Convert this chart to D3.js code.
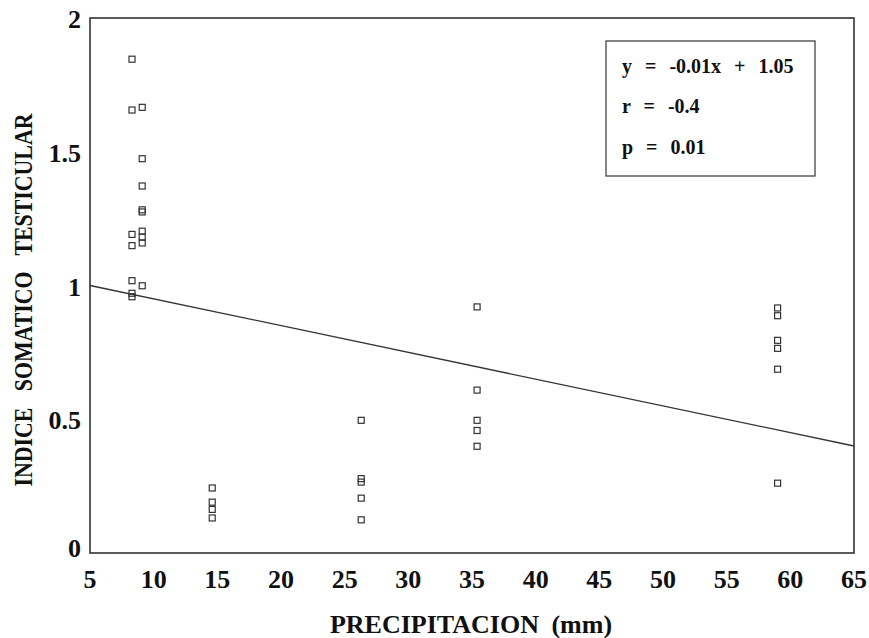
<!DOCTYPE html>
<html><head><meta charset="utf-8">
<script src="https://cdn.jsdelivr.net/npm/d3@7"></script>
<style>body{margin:0;background:#fff}</style>
</head><body>
<svg id="c" width="869" height="638"></svg>
<script>
// Data
const precipitation = [8.3,8.3,8.3,8.3,8.3,8.3,8.3, 9.1,9.1,9.1,9.1,9.1,9.1,9.1,9.1,9.1,
  14.6,14.6,14.6,14.6, 26.3,26.3,26.3,26.3,26.3, 35.4,35.4,35.4,35.4,35.4, 59.0,59.0,59.0,59.0,59.0,59.0];
const indice = [1.846,1.656,1.191,1.149,1.018,0.971,0.958, 1.666,1.474,1.372,1.283,1.275,1.203,1.181,1.159,0.999,
  0.243,0.190,0.163,0.131, 0.496,0.278,0.265,0.205,0.124, 0.920,0.609,0.496,0.458,0.399, 0.916,0.887,0.795,0.765,0.687,0.261];
const xTicks = [5,10,15,20,25,30,35,40,45,50,55,60,65];
const yTicks = [0,0.5,1,1.5,2];
const yTickLabels = ["0","0.5","1","1.5","2"];
const slope = -0.01, intercept = 1.05;
const statLines = ["y = -0.01x + 1.05","r = -0.4","p = 0.01"];

const svg = d3.select("#c");
const L = 90, R = 854, T = 18, B = 553;
const x = d3.scaleLinear().domain([5,65]).range([L,R]);
const y = d3.scaleLinear().domain([0,2]).range([B,T]);
const font = "'Liberation Serif','Times New Roman',serif";

// frame
svg.append("rect").attr("x",L).attr("y",T).attr("width",R-L).attr("height",B-T)
  .attr("fill","none").attr("stroke","#333").attr("stroke-width",1.6);

// x tick labels
svg.append("g").selectAll("text").data(xTicks).join("text")
  .attr("x",d=>x(d)).attr("y",588).attr("text-anchor","middle")
  .attr("font-family",font).attr("font-weight","bold").attr("font-size",26)
  .attr("fill","#111").text(d=>d);
// y tick labels
svg.append("g").selectAll("text").data(yTicks).join("text")
  .attr("x",81).attr("y",d=> d===0 ? y(d)+4 : y(d)+10).attr("text-anchor","end")
  .attr("font-family",font).attr("font-weight","bold").attr("font-size",26)
  .attr("fill","#111").text((d,i)=>yTickLabels[i]);

// axis titles
svg.append("text").attr("x",471).attr("y",633).attr("text-anchor","middle")
  .attr("font-family",font).attr("font-weight","bold").attr("font-size",26)
  .attr("fill","#111").attr("word-spacing","6px").text("PRECIPITACION (mm)");
svg.append("text").attr("transform","translate(32,300) rotate(-90) scale(0.84,1)").attr("text-anchor","middle")
  .attr("font-family",font).attr("font-weight","bold").attr("font-size",26)
  .attr("fill","#111").attr("word-spacing","13px").text("INDICE SOMATICO TESTICULAR");

// regression line
svg.append("line").attr("x1",x(5)).attr("y1",y(intercept+slope*5))
  .attr("x2",x(65)).attr("y2",y(intercept+slope*65))
  .attr("stroke","#333").attr("stroke-width",1.3);

// points
const pts = precipitation.map((p,i)=>({p, v: indice[i]}));
svg.append("g").selectAll("rect").data(pts).join("rect")
  .attr("x",d=>x(d.p)-3).attr("y",d=>y(d.v)-3).attr("width",6).attr("height",6)
  .attr("fill","none").attr("stroke","#333").attr("stroke-width",1.2);

// stats box
svg.append("rect").attr("x",606).attr("y",41).attr("width",209).attr("height",135)
  .attr("fill","#fff").attr("stroke","#444").attr("stroke-width",1.3);
svg.append("g").selectAll("text").data(statLines).join("text")
  .attr("x",622).attr("y",(d,i)=>[73,113,154][i])
  .attr("font-family",font).attr("font-weight","bold").attr("font-size",20)
  .attr("fill","#111").attr("word-spacing","8px").text(d=>d);
</script>
</body></html>
